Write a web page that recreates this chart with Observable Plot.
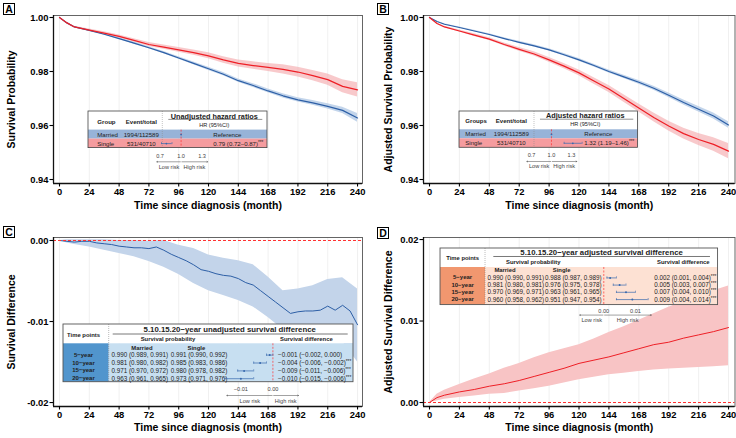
<!DOCTYPE html>
<html>
<head>
<meta charset="utf-8">
<script src="https://cdn.jsdelivr.net/npm/d3@7"></script>
<script src="https://cdn.jsdelivr.net/npm/@observablehq/plot@0.6"></script>
<style>
  html, body { margin: 0; padding: 0; background: #fff; }
  #fig { position: relative; width: 736px; height: 438px; overflow: hidden; font-family: "Liberation Sans", Arial, Helvetica, sans-serif; }
  .tag { position: absolute; width: 10px; height: 10px; border: 1px solid #000; font-weight: bold; font-size: 10.5px; line-height: 11px; text-align: center; background: #fff; color: #000; }
</style>
</head>
<body>
<div id="fig"></div>
<script>
// ---------------- data ----------------
const monthTicks = [0, 24, 48, 72, 96, 120, 144, 168, 192, 216, 240];
const months = [0, 6, 12, 24, 36, 48, 60, 72, 84, 96, 108, 120, 132, 144, 156, 168, 180, 192, 204, 216, 228, 240];

// Unadjusted Kaplan–Meier survival (A)
const unadjMarried   = [1.0, 0.998, 0.9965, 0.9952, 0.9938, 0.9922, 0.9905, 0.9888, 0.9870, 0.9850, 0.9830, 0.9810, 0.9790, 0.9766, 0.9748, 0.9728, 0.9710, 0.9695, 0.9684, 0.9671, 0.9656, 0.9628];
const unadjMarriedLo = [1.0, 0.9979, 0.9963, 0.9949, 0.9935, 0.9919, 0.9901, 0.9884, 0.9866, 0.9845, 0.9825, 0.9804, 0.9784, 0.9760, 0.9741, 0.9721, 0.9702, 0.9687, 0.9675, 0.9661, 0.9644, 0.9612];
const unadjMarriedHi = [1.0, 0.9981, 0.9967, 0.9955, 0.9941, 0.9925, 0.9909, 0.9892, 0.9874, 0.9855, 0.9835, 0.9816, 0.9796, 0.9772, 0.9755, 0.9735, 0.9718, 0.9703, 0.9693, 0.9681, 0.9668, 0.9644];
const unadjSingle    = [1.0, 0.998, 0.9965, 0.9953, 0.9942, 0.9930, 0.9915, 0.9900, 0.9890, 0.9880, 0.9870, 0.9858, 0.9843, 0.9830, 0.9822, 0.9815, 0.9808, 0.9798, 0.9785, 0.9770, 0.9745, 0.9732];
const unadjSingleLo  = [1.0, 0.9978, 0.9962, 0.9949, 0.9937, 0.9925, 0.9909, 0.9893, 0.9882, 0.9871, 0.9860, 0.9847, 0.9831, 0.9817, 0.9808, 0.9800, 0.9791, 0.9780, 0.9766, 0.9749, 0.9721, 0.9706];
const unadjSingleHi  = [1.0, 0.9982, 0.9968, 0.9957, 0.9947, 0.9935, 0.9921, 0.9907, 0.9898, 0.9889, 0.9880, 0.9869, 0.9855, 0.9843, 0.9836, 0.9830, 0.9825, 0.9816, 0.9804, 0.9791, 0.9769, 0.9758];

// Adjusted survival (B)
const adjMarried   = [1.0, 0.9985, 0.9975, 0.9963, 0.9950, 0.9937, 0.9922, 0.9908, 0.9895, 0.9880, 0.9862, 0.9843, 0.9822, 0.9800, 0.9780, 0.9760, 0.9738, 0.9712, 0.9685, 0.9660, 0.9635, 0.9602];
const adjMarriedLo = [1.0, 0.9984, 0.9973, 0.9961, 0.9947, 0.9934, 0.9919, 0.9904, 0.9891, 0.9876, 0.9857, 0.9838, 0.9817, 0.9794, 0.9774, 0.9753, 0.9731, 0.9704, 0.9676, 0.9650, 0.9624, 0.9590];
const adjMarriedHi = [1.0, 0.9986, 0.9977, 0.9965, 0.9953, 0.9940, 0.9925, 0.9912, 0.9899, 0.9884, 0.9867, 0.9848, 0.9827, 0.9806, 0.9786, 0.9767, 0.9745, 0.9720, 0.9694, 0.9670, 0.9646, 0.9614];
const adjSingle    = [1.0, 0.9978, 0.9965, 0.9950, 0.9935, 0.9920, 0.9900, 0.9882, 0.9865, 0.9843, 0.9820, 0.9795, 0.9765, 0.9735, 0.9700, 0.9665, 0.9630, 0.9598, 0.9570, 0.9548, 0.9530, 0.9505];
const adjSingleLo  = [1.0, 0.9976, 0.9962, 0.9946, 0.9930, 0.9915, 0.9894, 0.9875, 0.9857, 0.9834, 0.9810, 0.9784, 0.9753, 0.9722, 0.9686, 0.9650, 0.9614, 0.9580, 0.9550, 0.9526, 0.9505, 0.9477];
const adjSingleHi  = [1.0, 0.9980, 0.9968, 0.9954, 0.9940, 0.9925, 0.9906, 0.9889, 0.9873, 0.9852, 0.9830, 0.9806, 0.9777, 0.9748, 0.9714, 0.9680, 0.9646, 0.9616, 0.9590, 0.9570, 0.9555, 0.9533];

// Unadjusted survival difference (C)
const diffMonths = [0, 6, 12, 18, 24, 30, 36, 42, 48, 54, 60, 66, 72, 78, 84, 90, 96, 102, 108, 114, 120, 126, 132, 138, 144, 150, 156, 162, 168, 174, 180, 186, 192, 198, 204, 210, 216, 222, 228, 234, 240];
const unadjDiff = [0, -0.0001, -0.0002, -0.0001, -0.0001, -0.0003, -0.0004, -0.0005, -0.0007, -0.0008, -0.0009, -0.0009, -0.0010, -0.0008, -0.0012, -0.0017, -0.0021, -0.0025, -0.0030, -0.0036, -0.0038, -0.0041, -0.0043, -0.0044, -0.0047, -0.0052, -0.0055, -0.0062, -0.0069, -0.0076, -0.0083, -0.0090, -0.0088, -0.0087, -0.0087, -0.0086, -0.0081, -0.0086, -0.0080, -0.0087, -0.0104];
const unadjDiffLo = [0, -0.0003, -0.0005, -0.0008, -0.0012, -0.0016, -0.0020, -0.0026, -0.0033, -0.0042, -0.0053, -0.0062, -0.0068, -0.0074, -0.0082, -0.0095, -0.0110, -0.0114, -0.0116, -0.0118, -0.0125, -0.0150];
const unadjDiffHi = [0, 0.0001, 0.0001, 0.0001, 0.0001, 0.0000, 0.0000, -0.0001, 0.0000, -0.0006, -0.0010, -0.0018, -0.0022, -0.0025, -0.0030, -0.0045, -0.0062, -0.0060, -0.0056, -0.0048, -0.0046, -0.0060];

// Adjusted survival difference (D)
const adjDiff   = [0, 0.0006, 0.0009, 0.0013, 0.0016, 0.0020, 0.0023, 0.0027, 0.0032, 0.0037, 0.0042, 0.0048, 0.0052, 0.0056, 0.0061, 0.0066, 0.0071, 0.0074, 0.0079, 0.0083, 0.0087, 0.0092];
const adjDiffLo = [0, 0.0002, 0.0004, 0.0006, 0.0008, 0.0010, 0.0011, 0.0014, 0.0017, 0.0020, 0.0024, 0.0028, 0.0031, 0.0034, 0.0036, 0.0038, 0.0040, 0.0041, 0.0042, 0.0043, 0.0044, 0.0045];
const adjDiffHi = [0, 0.0010, 0.0015, 0.0022, 0.0029, 0.0035, 0.0042, 0.0048, 0.0055, 0.0061, 0.0066, 0.0071, 0.0078, 0.0086, 0.0093, 0.0101, 0.0109, 0.0117, 0.0124, 0.0131, 0.0137, 0.0143];

// Hazard-ratio tables
const hrGroups = ["Married", "Single"];
const hrEvents = ["1994/112589", "531/40710"];
const hrTicks = [0.7, 1.0, 1.3];
const hrUnadj = [1, 0.79], hrUnadjLo = [null, 0.72], hrUnadjHi = [null, 0.87];
const hrAdj = [1, 1.32], hrAdjLo = [null, 1.19], hrAdjHi = [null, 1.46];

// Survival at 5/10/15/20 years: [estimate, lower, upper]
const timeLabels = ["5\u2212year", "10\u2212year", "15\u2212year", "20\u2212year"];
const unadjMarriedAt = [[0.990, 0.989, 0.991], [0.981, 0.980, 0.982], [0.971, 0.970, 0.972], [0.963, 0.961, 0.965]];
const unadjSingleAt  = [[0.991, 0.990, 0.992], [0.985, 0.983, 0.986], [0.980, 0.978, 0.982], [0.973, 0.971, 0.976]];
const unadjDiffAt    = [[-0.001, -0.002, 0.000], [-0.004, -0.006, -0.002], [-0.009, -0.011, -0.006], [-0.010, -0.015, -0.006]];
const unadjDiffSig   = [false, true, true, true];
const adjMarriedAt = [[0.990, 0.990, 0.991], [0.981, 0.980, 0.981], [0.970, 0.969, 0.971], [0.960, 0.958, 0.962]];
const adjSingleAt  = [[0.988, 0.987, 0.989], [0.976, 0.975, 0.978], [0.963, 0.961, 0.965], [0.951, 0.947, 0.954]];
const adjDiffAt    = [[0.002, 0.001, 0.004], [0.005, 0.003, 0.007], [0.007, 0.004, 0.010], [0.009, 0.004, 0.014]];
const adjDiffSig   = [true, true, true, true];

// ---------------- styling ----------------
const FONT = '"Liberation Sans", Arial, Helvetica, sans-serif';
const LINE_BLUE = "#2d5fa6", LINE_RED = "#ee1f26";
const BAND_BLUE = "#a9c3e3", BAND_RED = "#f4a5a9";
const FOREST_BLUE = "#3668ad", REF_RED = "#ff3030";
const fig = document.getElementById("fig");

function place(el, left, top) {
  el.style.position = "absolute";
  el.style.left = left + "px";
  el.style.top = top + "px";
  fig.appendChild(el);
  return el;
}
function tag(letter, left, top) {
  const d = document.createElement("div");
  d.className = "tag";
  d.textContent = letter;
  place(d, left, top);
}
function rows3(t, est, lo, hi) {
  return t.map((m, i) => ({m, est: est[i], lo: lo[i], hi: hi[i]}));
}
const f2 = (v) => v.toFixed(2);

// ---------------- main survival panels ----------------
function mainPanel(o) {
  const x0 = o.xDomain[0], y0 = o.yDomain[0];
  return Plot.plot({
    width: o.width, height: o.height,
    marginLeft: o.ml, marginRight: o.mr, marginTop: o.mt, marginBottom: o.mb,
    style: {fontFamily: FONT, fontSize: "9.4px", color: "#000", background: "transparent", overflow: "visible"},
    x: {domain: o.xDomain},
    y: {domain: o.yDomain},
    marks: [
      Plot.gridX(monthTicks, {stroke: "#e6e6e6", strokeOpacity: 1, strokeWidth: 0.6}),
      ...o.marks,
      Plot.frame({stroke: "#555", strokeWidth: 0.9}),
      Plot.ruleX([x0], {stroke: "#111", strokeWidth: 1.3}),
      Plot.ruleY([y0], {stroke: "#111", strokeWidth: 1.3}),
      Plot.axisX(monthTicks, {tickSize: 3.5, tickPadding: 1.5, fontWeight: "bold", label: null, strokeWidth: 1.1}),
      Plot.axisY(o.yTicks, {tickSize: 3.5, tickPadding: 1.5, fontWeight: "bold", label: null, strokeWidth: 1.1, tickFormat: f2}),
      Plot.text(["Time since diagnosis (month)"], {frameAnchor: "bottom", dy: o.xTitleDy, fontSize: 10.5, fontWeight: "bold"}),
      Plot.text([o.yTitle], {frameAnchor: "left", textAnchor: "middle", dx: -o.yTitleOff, rotate: -90, fontSize: 10.5, fontWeight: "bold"})
    ]
  });
}

function chromeLayer(svgEl) {
  return d3.select(svgEl).insert("g", ":first-child").attr("font-family", FONT).attr("fill", "#222");
}
function label(g, x, y, text, size, opts = {}) {
  const t = g.append("text")
    .attr("x", x).attr("y", y)
    .attr("dominant-baseline", "central")
    .attr("text-anchor", opts.anchor || "start")
    .attr("font-size", size)
    .attr("font-weight", opts.bold ? "bold" : "normal")
    .text(text);
  if (opts.stars) {
    t.append("tspan").attr("dy", -1.4).attr("font-size", size * 0.75).text("***");
  }
  return t;
}

// ---------------- hazard ratio inset (A, B) ----------------
function hazardInset(o) {
  const rows = hrGroups.map((g, i) => ({group: g, events: hrEvents[i], hr: o.est[i], lo: o.lo[i], hi: o.hi[i], y: o.hdr + o.row * (i + 0.5)}));
  const ci = rows.filter((d) => d.lo != null);
  const risk = [{text: "Low risk", x: (o.arrowLo + 1) / 2}, {text: "High risk", x: (1 + o.arrowHi) / 2}];
  const svg = Plot.plot({
    width: o.W, height: o.H,
    marginLeft: 0, marginRight: 0, marginTop: o.hdr, marginBottom: o.H - o.hdr - 2 * o.row,
    style: {fontFamily: FONT, fontSize: "5.6px", color: "#333", background: "transparent", overflow: "visible"},
    x: {domain: [0.7, 1.3], range: o.xRange, axis: null},
    y: {domain: [0, o.H], range: [0, o.H], axis: null},
    marks: [
      Plot.ruleX([1], {stroke: REF_RED, strokeWidth: 0.7, strokeDasharray: "2,1.5"}),
      Plot.ruleY(ci, {x1: "lo", x2: "hi", y: "y", stroke: FOREST_BLUE, strokeWidth: 0.7}),
      Plot.ruleX(ci, {x: "lo", y1: (d) => d.y - 1, y2: (d) => d.y + 1, stroke: FOREST_BLUE, strokeWidth: 0.6}),
      Plot.ruleX(ci, {x: "hi", y1: (d) => d.y - 1, y2: (d) => d.y + 1, stroke: FOREST_BLUE, strokeWidth: 0.6}),
      Plot.dot(rows, {x: "hr", y: "y", r: 0.9, fill: FOREST_BLUE}),
      Plot.text(hrTicks, {x: (d) => d, y: () => o.tickY, text: (d) => d.toFixed(1), fill: "#444"}),
      Plot.arrow([o.arrowLo, o.arrowHi], {x1: () => 1, x2: (d) => d, y1: () => o.arrowY, y2: () => o.arrowY, stroke: "#444", strokeWidth: 0.5, headLength: 2.5, insetStart: 0.8}),
      Plot.text(risk, {x: "x", y: () => o.riskY, text: "text", fill: "#444"})
    ]
  });
  const g = chromeLayer(svg);
  const tableH = o.hdr + 2 * o.row;
  g.append("rect").attr("x", 0).attr("y", 0).attr("width", o.W).attr("height", o.hdr).attr("fill", "#fff");
  ["#97b3d8", "#f59c9f"].forEach((c, i) =>
    g.append("rect").attr("x", 0).attr("y", o.hdr + i * o.row).attr("width", o.W).attr("height", o.row).attr("fill", c));
  g.append("line").attr("x1", o.divider).attr("x2", o.divider).attr("y1", 0).attr("y2", tableH)
    .attr("stroke", "#888").attr("stroke-width", 0.5).attr("stroke-dasharray", "1,1");
  g.append("line").attr("x1", o.lineX[0]).attr("x2", o.lineX[1]).attr("y1", o.lineY).attr("y2", o.lineY)
    .attr("stroke", "#777").attr("stroke-width", 0.8);
  g.append("rect").attr("x", 0).attr("y", 0).attr("width", o.W).attr("height", tableH)
    .attr("fill", "none").attr("stroke", "#444").attr("stroke-width", 0.8);
  label(g, o.colGroup, o.hdrY, o.groupHeader, 6.1, {bold: true});
  label(g, o.colEvent, o.hdrY, "Event/total", 6.1, {bold: true, anchor: "middle"});
  label(g, o.titleX, o.titleY, o.title, 7.3, {bold: true, anchor: "middle"});
  label(g, o.titleX, o.subY, "HR (95%CI)", 5.6, {anchor: "middle"});
  rows.forEach((r, i) => {
    label(g, o.colGroup, r.y, r.group, 6.1);
    label(g, o.colEvent, r.y, r.events, 6.1, {anchor: "middle"});
    if (r.lo == null) label(g, o.hrTextX, r.y, "Reference", 6.1);
    else label(g, o.hrTextX, r.y, `${f2(r.hr)} (${f2(r.lo)}\u2013${f2(r.hi)})`, 6.1, {stars: true});
  });
  return svg;
}

// ---------------- survival difference inset (C, D) ----------------
function diffInset(o) {
  const f3 = d3.format(".3f");
  const tri = (v) => `${f3(v[0])} (${f3(v[1])}, ${f3(v[2])})`;
  const rows = timeLabels.map((t, i) => ({t, est: o.diff[i][0], lo: o.diff[i][1], hi: o.diff[i][2], y: o.rowY[i]}));
  const risk = [{text: "Low risk", x: (o.arrowLo + 0) / 2}, {text: "High risk", x: (0 + o.arrowHi) / 2}];
  const svg = Plot.plot({
    width: o.W, height: o.H,
    marginLeft: 0, marginRight: 0, marginTop: o.hdr, marginBottom: o.H - o.hdr - o.dataH,
    style: {fontFamily: FONT, fontSize: "5.6px", color: "#333", background: "transparent", overflow: "visible"},
    x: {domain: o.ticks, range: o.tickX, axis: null},
    y: {domain: [0, o.H], range: [0, o.H], axis: null},
    marks: [
      Plot.ruleX([0], {stroke: REF_RED, strokeWidth: 0.7, strokeDasharray: "2,1.5"}),
      Plot.ruleY(rows, {x1: "lo", x2: "hi", y: "y", stroke: FOREST_BLUE, strokeWidth: 0.7}),
      Plot.ruleX(rows, {x: "lo", y1: (d) => d.y - 1.1, y2: (d) => d.y + 1.1, stroke: FOREST_BLUE, strokeWidth: 0.6}),
      Plot.ruleX(rows, {x: "hi", y1: (d) => d.y - 1.1, y2: (d) => d.y + 1.1, stroke: FOREST_BLUE, strokeWidth: 0.6}),
      Plot.dot(rows, {x: "est", y: "y", r: 1, fill: FOREST_BLUE}),
      Plot.text(o.ticks, {x: (d) => d, y: () => o.tickY, text: (d) => d3.format(".2f")(d), fill: "#444"}),
      Plot.arrow([o.arrowLo, o.arrowHi], {x1: () => 0, x2: (d) => d, y1: () => o.arrowY, y2: () => o.arrowY, stroke: "#444", strokeWidth: 0.5, headLength: 2.5, insetStart: 0.8}),
      Plot.text(risk, {x: "x", y: () => o.riskY, text: "text", fill: "#444"})
    ]
  });
  const g = chromeLayer(svg);
  const tableH = o.hdr + o.dataH;
  g.append("rect").attr("x", 0).attr("y", 0).attr("width", o.W).attr("height", o.hdr).attr("fill", "#fff");
  g.append("rect").attr("x", 0).attr("y", o.hdr).attr("width", o.divider).attr("height", o.dataH).attr("fill", o.timeFill);
  g.append("rect").attr("x", o.divider).attr("y", o.hdr).attr("width", o.W - o.divider).attr("height", o.dataH).attr("fill", o.dataFill);
  g.append("line").attr("x1", o.divider).attr("x2", o.divider).attr("y1", 0).attr("y2", tableH)
    .attr("stroke", "#777").attr("stroke-width", 0.5).attr("stroke-dasharray", "1,1");
  g.append("line").attr("x1", o.lineX[0]).attr("x2", o.lineX[1]).attr("y1", o.lineY).attr("y2", o.lineY)
    .attr("stroke", "#555").attr("stroke-width", 0.8);
  g.append("rect").attr("x", 0).attr("y", 0).attr("width", o.W).attr("height", tableH)
    .attr("fill", "none").attr("stroke", "#555").attr("stroke-width", 0.9);
  label(g, o.titleX, o.titleY, o.title, 7.8, {bold: true, anchor: "middle"});
  label(g, o.timeX, o.timeY, "Time points", 5.9, {bold: true, anchor: "middle"});
  label(g, o.spX, o.subHdrY, "Survival probability", 5.9, {bold: true, anchor: "middle"});
  label(g, o.sdX, o.subHdrY, "Survival difference", 5.9, {bold: true, anchor: "middle"});
  label(g, o.marriedX, o.groupY, "Married", 5.9, {bold: true, anchor: "middle"});
  label(g, o.singleX, o.groupY, "Single", 5.9, {bold: true, anchor: "middle"});
  rows.forEach((r, i) => {
    label(g, o.timeX, r.y, r.t, 6, {bold: true, anchor: "middle"});
    label(g, o.marriedValX, r.y, tri(o.married[i]), 6.3);
    label(g, o.singleValX, r.y, tri(o.single[i]), 6.3);
    label(g, o.diffTextX, r.y, tri(o.diff[i]), 6.3, {stars: o.sig[i]});
  });
  return svg;
}

// ---------------- Panel A ----------------
{
  const married = rows3(months, unadjMarried, unadjMarriedLo, unadjMarriedHi);
  const single = rows3(months, unadjSingle, unadjSingleLo, unadjSingleHi);
  const chart = mainPanel({
    width: 368, height: 219, ml: 53, mr: 6, mt: 15, mb: 36,
    xDomain: [-4.83, 244], yDomain: [0.93852, 1.00074], yTicks: [0.94, 0.96, 0.98, 1.00],
    yTitle: "Survival Probability", yTitleOff: 42, xTitleDy: 25,
    marks: [
      Plot.areaY(married, {x: "m", y1: "lo", y2: "hi", fill: BAND_BLUE, fillOpacity: 0.7}),
      Plot.areaY(single, {x: "m", y1: "lo", y2: "hi", fill: BAND_RED, fillOpacity: 0.6}),
      Plot.lineY(married, {x: "m", y: "est", stroke: LINE_BLUE, strokeWidth: 1.2}),
      Plot.lineY(single, {x: "m", y: "est", stroke: LINE_RED, strokeWidth: 1.2})
    ]
  });
  place(chart, 0, 0);
  place(hazardInset({
    W: 179, H: 60, hdr: 18.6, row: 9,
    est: hrUnadj, lo: hrUnadjLo, hi: hrUnadjHi,
    title: "Unadjusted hazard ratios", groupHeader: "Group",
    colGroup: 9.3, colEvent: 53.3, divider: 74.3, hdrY: 10,
    titleX: 126.3, titleY: 5, subY: 13.6, lineX: [80.3, 174.3], lineY: 8.4, hrTextX: 125.3,
    xRange: [71.6, 113.6], tickY: 44.3, arrowY: 50.3, riskY: 55.5, arrowLo: 0.653, arrowHi: 1.38
  }), 87.7, 110.7);
  tag("A", 3, 3);
}

// ---------------- Panel B ----------------
{
  const married = rows3(months, adjMarried, adjMarriedLo, adjMarriedHi);
  const single = rows3(months, adjSingle, adjSingleLo, adjSingleHi);
  const chart = mainPanel({
    width: 368, height: 219, ml: 55, mr: 1.5, mt: 15, mb: 36,
    xDomain: [-4.82, 245.2], yDomain: [0.93852, 1.00074], yTicks: [0.94, 0.96, 0.98, 1.00],
    yTitle: "Adjusted Survival Probability", yTitleOff: 35, xTitleDy: 25,
    marks: [
      Plot.areaY(married, {x: "m", y1: "lo", y2: "hi", fill: BAND_BLUE, fillOpacity: 0.7}),
      Plot.areaY(single, {x: "m", y1: "lo", y2: "hi", fill: BAND_RED, fillOpacity: 0.6}),
      Plot.lineY(married, {x: "m", y: "est", stroke: LINE_BLUE, strokeWidth: 1.2}),
      Plot.lineY(single, {x: "m", y: "est", stroke: LINE_RED, strokeWidth: 1.2})
    ]
  });
  place(chart, 368, 0);
  place(hazardInset({
    W: 178.6, H: 60, hdr: 18.3, row: 9,
    est: hrAdj, lo: hrAdjLo, hi: hrAdjHi,
    title: "Adjusted hazard ratios", groupHeader: "Groups",
    colGroup: 6.3, colEvent: 52.3, divider: 75, hdrY: 10,
    titleX: 126.3, titleY: 4.7, subY: 13.3, lineX: [81, 174.3], lineY: 8.2, hrTextX: 125.3,
    xRange: [72, 112], tickY: 44, arrowY: 50, riskY: 55.2, arrowLo: 0.63, arrowHi: 1.38
  }), 458.7, 111);
  tag("B", 377, 3);
}

// ---------------- Panel C ----------------
{
  const line = diffMonths.map((m, i) => ({m, est: unadjDiff[i]}));
  const band = months.map((m, i) => ({m, lo: unadjDiffLo[i], hi: unadjDiffHi[i]}));
  const chart = mainPanel({
    width: 368, height: 219, ml: 53, mr: 6, mt: 18, mb: 32,
    xDomain: [-4.83, 244], yDomain: [-0.02049, 0.00037], yTicks: [-0.02, -0.01, 0],
    yTitle: "Survival Difference", yTitleOff: 42, xTitleDy: 24,
    marks: [
      Plot.areaY(band, {x: "m", y1: "lo", y2: "hi", fill: "#c3d4ea"}),
      Plot.lineY(line, {x: "m", y: "est", stroke: LINE_BLUE, strokeWidth: 1}),
      Plot.ruleY([0], {stroke: REF_RED, strokeWidth: 1, strokeDasharray: "3,2"})
    ]
  });
  place(chart, 0, 219);
  place(diffInset({
    W: 290, H: 82, hdr: 19.3, dataH: 38.4,
    married: unadjMarriedAt, single: unadjSingleAt, diff: unadjDiffAt, sig: unadjDiffSig,
    title: "5.10.15.20\u2212year unadjusted survival difference",
    titleX: 166.7, titleY: 5.8, lineX: [49.7, 284.7], lineY: 10, timeX: 20.5, timeY: 11,
    spX: 105, sdX: 243.4, subHdrY: 15.2, divider: 45.7,
    marriedX: 79, singleX: 133.4, groupY: 24.3, rowY: [30.6, 38.5, 46.4, 54.2],
    marriedValX: 48.4, singleValX: 107.7, diffTextX: 215,
    timeFill: "#5195cd", dataFill: "#c7dff1",
    ticks: [-0.01, 0], tickX: [177.4, 209.4], tickY: 65, arrowY: 71, riskY: 76.7, arrowLo: -0.0144, arrowHi: 0.008
  }), 63.3, 324);
  tag("C", 3, 226);
}

// ---------------- Panel D ----------------
{
  const data = rows3(months, adjDiff, adjDiffLo, adjDiffHi);
  const chart = mainPanel({
    width: 368, height: 219, ml: 55, mr: 1.5, mt: 18, mb: 32,
    xDomain: [-4.82, 245.2], yDomain: [-0.00049, 0.02025], yTicks: [0, 0.01, 0.02],
    yTitle: "Adjusted Survival Difference", yTitleOff: 35, xTitleDy: 24,
    marks: [
      Plot.areaY(data, {x: "m", y1: "lo", y2: "hi", fill: "#f8c4c5"}),
      Plot.lineY(data, {x: "m", y: "est", stroke: LINE_RED, strokeWidth: 1}),
      Plot.ruleY([0], {stroke: REF_RED, strokeWidth: 1, strokeDasharray: "3,2"})
    ]
  });
  place(chart, 368, 219);
  place(diffInset({
    W: 277.6, H: 76, hdr: 19, dataH: 37.6,
    married: adjMarriedAt, single: adjSingleAt, diff: adjDiffAt, sig: adjDiffSig,
    title: "5.10.15.20\u2212year adjusted survival difference",
    titleX: 161.6, titleY: 5, lineX: [53.3, 270], lineY: 8.5, timeX: 22.6, timeY: 10,
    spX: 93.3, sdX: 243.3, subHdrY: 14, divider: 45,
    marriedX: 65, singleX: 121.6, groupY: 22.3, rowY: [29.4, 36.6, 43.8, 51.1],
    marriedValX: 47.6, singleValX: 105, diffTextX: 214.3,
    timeFill: "#f1976f", dataFill: "#fde1d3",
    ticks: [0, 0.01], tickX: [163.3, 195], tickY: 62.3, arrowY: 66.6, riskY: 71.3, arrowLo: -0.0076, arrowHi: 0.015
  }), 439.7, 247.7);
  tag("D", 377, 227);
}
</script>
</body>
</html>
